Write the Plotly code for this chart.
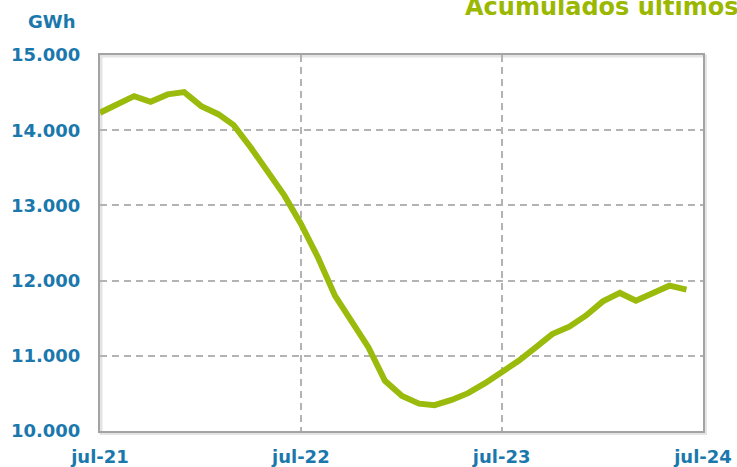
import plotly.graph_objects as go
import pandas as pd

months = pd.date_range("2021-07-01", periods=36, freq="MS")
values_gwh = [14233, 14350, 14453, 14377, 14476, 14507, 14320, 14213, 14067, 13770,
              13450, 13133, 12756, 12311, 11800, 11467, 11111, 10667, 10467, 10364,
              10343, 10413, 10503, 10636, 10777, 10933, 11111, 11289, 11387, 11533,
              11724, 11836, 11733, 11831, 11933, 11880]
x_tick_vals = ["2021-07-01", "2022-07-01", "2023-07-01", "2024-07-01"]
x_tick_text = ["jul-21", "jul-22", "jul-23", "jul-24"]
y_tick_vals = [10000, 11000, 12000, 13000, 14000, 15000]
y_tick_text = ["10.000", "11.000", "12.000", "13.000", "14.000", "15.000"]
title_text = "Acumulados últimos 12 meses"
unit_text = "GWh"

W, H = 737, 467
L, R, T, B = 100, 703, 55, 431
FONT = "Verdana, DejaVu Sans, sans-serif"
BLUE = "#1b78ad"
GREEN = "#9aba0c"

fig = go.Figure()
fig.add_trace(go.Scatter(
    x=months, y=values_gwh, mode="lines",
    line=dict(color=GREEN, width=6, shape="linear"),
    hoverinfo="skip", showlegend=False,
))

dx0, dx1 = L / W, R / W
dy0, dy1 = 1 - B / H, 1 - T / H

grid_kw = dict(showgrid=True, gridcolor="#b3b3b3", gridwidth=1.5, griddash="7px,5px")

fig.update_layout(
    width=W, height=H,
    margin=dict(l=0, r=0, t=0, b=0, autoexpand=False),
    paper_bgcolor="white", plot_bgcolor="white",
    showlegend=False,
    xaxis=dict(
        domain=[dx0, dx1], type="date", automargin=False,
        range=["2021-07-01", "2024-07-01"],
        tickvals=x_tick_vals, ticktext=x_tick_text,
        showline=True, mirror=True, linecolor="#a3a3a3", linewidth=2,
        ticks="outside", ticklen=8, tickcolor="rgba(0,0,0,0)",
        tickfont=dict(family=FONT, size=18, color=BLUE, weight="bold"),
        zeroline=False, fixedrange=True, **grid_kw,
    ),
    yaxis=dict(
        domain=[dy0, dy1], automargin=False,
        range=[10000, 15000],
        tickvals=y_tick_vals, ticktext=y_tick_text,
        showline=True, mirror=True, linecolor="#a3a3a3", linewidth=2,
        ticks="outside", ticklen=14, tickcolor="rgba(0,0,0,0)",
        tickfont=dict(family=FONT, size=18, color=BLUE, weight="bold"),
        zeroline=False, fixedrange=True, **grid_kw,
    ),
    shapes=[
        dict(type="rect", xref="paper", yref="paper", layer="below",
             x0=dx0 + 1 / W, x1=dx1 + 2.5 / W, y0=dy0 - 2.5 / H, y1=dy1 - 1 / H,
             line=dict(width=3, color="#e4e4e4"), fillcolor="rgba(0,0,0,0)"),
    ],
    annotations=[
        dict(text=title_text, xref="paper", yref="paper",
             x=463 / W, y=1 - 7 / H, xanchor="left", yanchor="middle",
             showarrow=False,
             font=dict(family=FONT, size=24, color="#9ab800", weight="bold")),
        dict(text=unit_text, xref="paper", yref="paper",
             x=51 / W, y=1 - 21 / H, xanchor="center", yanchor="middle",
             showarrow=False,
             font=dict(family=FONT, size=18, color=BLUE, weight="bold")),
    ],
)

fig.write_html(
    "out.html",
    config={"displayModeBar": False},
    post_script="document.body.style.margin='0';document.body.style.overflow='hidden';",
)
